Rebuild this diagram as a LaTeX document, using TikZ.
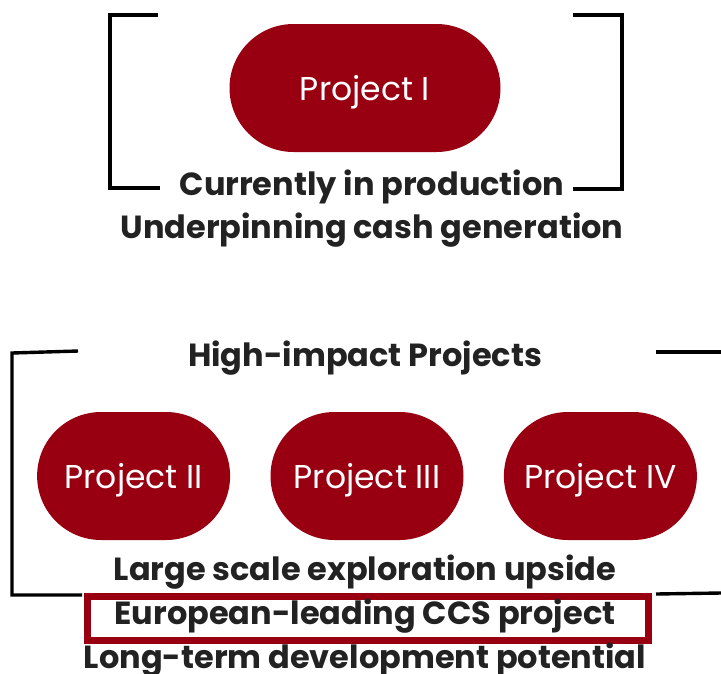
\documentclass[tikz,border=0pt]{standalone}
\usepackage{fontspec}
\setmainfont{Poppins}
\usetikzlibrary{positioning, shapes.misc}
\definecolor{brandred}{RGB}{152,0,18}
\definecolor{inkgray}{RGB}{34,34,34}

\begin{document}
\begin{tikzpicture}[
		x=1pt, y=-1pt,
		node distance=40pt,
		pill/.style={rounded rectangle, fill=brandred, text=white, minimum height=128pt, inner sep=0pt, text depth=0pt, font=\fontsize{33}{38}\selectfont},
		caption/.style={text=inkgray, inner sep=0pt, font=\fontsize{32}{38}\selectfont\bfseries},
		bracket/.style={line width=3.4pt, black}
		]
		\useasboundingbox (0,0) rectangle (721,673);
		
		% Producing asset
		\node[pill, minimum width=271pt] (p1) at (365,88) {Project I};
		\node[caption] (prod) at (372,187) {Currently in production};
		\node[caption] (cash) at (372,230) {Underpinning cash generation};
		\draw[bracket] (158,15) -- (110,15) -- (110,188) -- (160,188);
		\draw[bracket] (573,15) -- (622,15) -- (622,189) -- (573,189);
		
		% High-impact projects
		\node[caption] (high) at (365,358) {High-impact Projects};
		\node[pill, minimum width=193pt] (p3) at (367,476) {Project III};
		\node[pill, minimum width=193pt, left=of p3] (p2) {Project II};
		\node[pill, minimum width=193pt, right=of p3] (p4) {Project IV};
		\node[caption] (expl) at (365,572) {Large scale exploration upside};
		\node[draw=brandred, line width=7pt, minimum width=561pt, minimum height=44pt, inner sep=0pt] (ccsframe) at (368,618.5) {};
		\node[caption] (ccs) at (365,616) {European-leading CCS project};
		\node[caption] (long) at (365,660) {Long-term development potential};
		\draw[bracket] (78,351) -- (12,353) -- (12,595) -- (82,595);
		\draw[bracket] (656,352) -- (721,352);
		\draw[bracket] (656,594) -- (721,593);
		
	\end{tikzpicture}
\end{document}
